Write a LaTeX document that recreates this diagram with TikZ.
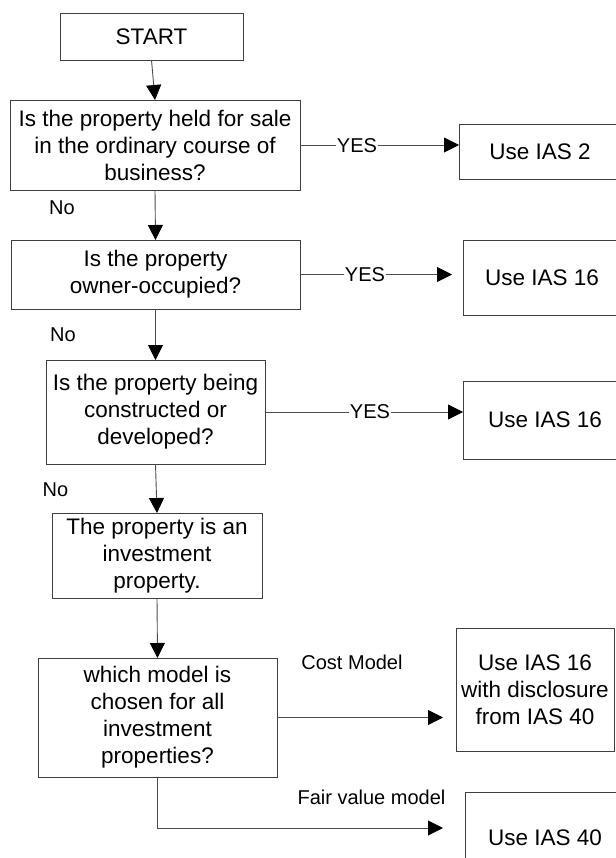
\documentclass[tikz,border=0pt]{standalone}
\usepackage{fontspec}
\setmainfont{Liberation Sans}
\usetikzlibrary{arrows.meta}
\tikzset{
	box/.style={draw=black!75, line width=0.9pt, align=center, inner sep=0pt, outer sep=0pt, font=\fontsize{22.5}{27}\selectfont},
	lbl/.style={font=\fontsize{20}{24}\selectfont, inner sep=1pt},
	link/.style={->, draw=black!70, line width=0.9pt},
}
\begin{document}
\begin{tikzpicture}[>={Triangle[length=15pt,width=15pt,color=black]}, x=1pt, y=-1pt, line width=0.8pt, color=black]
		\useasboundingbox (0,0) rectangle (615,858);
		% main column
		\node[box, minimum width=183pt, minimum height=47pt] (start) at (151.5,36.5) {START};
		\node[box, minimum width=290pt, minimum height=90pt] (sale) at (155,145) {Is the property held for sale\\in the ordinary course of\\business?};
		\node[box, minimum width=289pt, minimum height=69pt] (owner) at (155.5,274.5) {Is the property\\owner-occupied?};
		\node[box, minimum width=219pt, minimum height=104pt] (built) at (155.5,412) {Is the property being\\constructed or\\developed?};
		\node[box, minimum width=210pt, minimum height=85pt] (invest) at (157,555.5) {The property is an\\investment\\property.};
		\node[box, minimum width=239pt, minimum height=119pt] (model) at (157.5,717.5) {which model is\\chosen for all\\investment\\properties?};
		% answers on the right
		\node[box, minimum width=162pt, minimum height=55pt] (ias2) at (540,151.5) {Use IAS 2};
		\node[box, minimum width=158pt, minimum height=75pt] (ias16a) at (542,277.5) {Use IAS 16};
		\node[box, minimum width=164pt, minimum height=78pt] (ias16b) at (545,420) {Use IAS 16};
		\node[box, minimum width=158pt, minimum height=123pt] (ias16c) at (535,689.5) {Use IAS 16\\with disclosure\\from IAS 40};
		\node[box, minimum width=160pt, minimum height=92pt] (ias40) at (545,838) {Use IAS 40};
		\coordinate (fvend) at (443,828);
		% connectors
		\draw[link] (start.south) -- (sale.north);
		\draw[link] (sale.south) -- (owner.north);
		\draw[link] (owner.south) -- (built.north);
		\draw[link] (built.south) -- (invest.north);
		\draw[link] (invest.south) -- (model.north);
		\draw[link] (sale.east) -- (sale.east -| ias2.west);
		\draw[link] (owner.east) -- ([xshift=-11pt]owner.east -| ias16a.west);
		\draw[link] (built.east) -- (built.east -| ias16b.west);
		\draw[link] (model.east) -- ([xshift=-13pt]model.east -| ias16c.west);
		\draw[link] (model.south) |- (fvend);
		% labels
		\node[lbl, fill=white] (yes1) at (357,146) {YES};
		\node[lbl, fill=white] (yes2) at (365,275) {YES};
		\node[lbl, fill=white] (yes3) at (370,412) {YES};
		\node[lbl] (no1) at (62,208) {No};
		\node[lbl] (no2) at (63,335) {No};
		\node[lbl] (no3) at (55.5,490) {No};
		\node[lbl] (cost) at (352,662) {Cost Model};
		\node[lbl] (fair) at (371.5,797) {Fair value model};
		\end{tikzpicture}
\end{document}
